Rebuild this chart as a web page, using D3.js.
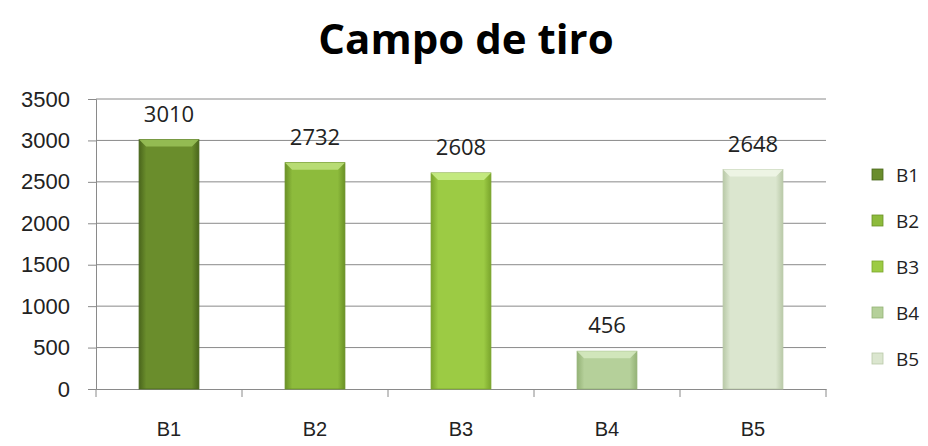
<!DOCTYPE html>
<html>
<head>
<meta charset="utf-8">
<script src="https://cdn.jsdelivr.net/npm/d3@7"></script>
<style>
  html, body { margin: 0; padding: 0; background: #fff; }
  svg { display: block; font-family: "Open Sans", "DejaVu Sans", sans-serif; }
</style>
</head>
<body>
<svg id="chart" width="928" height="446"></svg>
<script>
const categories = ['B1', 'B2', 'B3', 'B4', 'B5'];
const values = [3010, 2732, 2608, 456, 2648];
const yTicks = [0, 500, 1000, 1500, 2000, 2500, 3000, 3500];
const colors = [
  { mid: '#6a8d2c', edge: '#4a661c', top: '#98c056' },
  { mid: '#8dbb3c', edge: '#6a9126', top: '#bde07a' },
  { mid: '#9ccb44', edge: '#7aa52c', top: '#c8ec86' },
  { mid: '#b5d09a', edge: '#94b276', top: '#d4e8bf' },
  { mid: '#dbe6cf', edge: '#b9c9a8', top: '#eef5e6' }
];

const svg = d3.select('#chart');
const m = { left: 96, right: 102, top: 99, bottom: 57 };
const W = 928, H = 446;

const x = d3.scaleBand().domain(categories).range([m.left, W - m.right]).paddingInner(0.59).paddingOuter(0.295);
const y = d3.scaleLinear().domain([0, 3500]).range([H - m.bottom, m.top]);

const defs = svg.append('defs');
colors.forEach((c, i) => {
  const g = defs.append('linearGradient').attr('id', 'g' + i).attr('x1', 0).attr('x2', 1).attr('y1', 0).attr('y2', 0);
  g.append('stop').attr('offset', '0%').attr('stop-color', c.edge);
  g.append('stop').attr('offset', '12%').attr('stop-color', c.mid);
  g.append('stop').attr('offset', '88%').attr('stop-color', c.mid);
  g.append('stop').attr('offset', '100%').attr('stop-color', c.edge);
});

// title
svg.append('text')
  .attr('x', 466).attr('y', 54)
  .attr('text-anchor', 'middle')
  .attr('font-size', 42).attr('font-weight', 'bold')
  .attr('fill', '#000')
  .text('Campo de tiro');

// gridlines
svg.append('g').selectAll('line').data(yTicks.filter(d => d > 0)).join('line')
  .attr('x1', m.left).attr('x2', W - m.right)
  .attr('y1', d => y(d)).attr('y2', d => y(d))
  .attr('stroke', '#8a8a8a').attr('stroke-width', 1);

// y axis
const yAxis = svg.append('g').attr('transform', `translate(${m.left},0)`)
  .call(d3.axisLeft(y).tickValues(yTicks).tickFormat(d3.format('d')).tickSize(8).tickPadding(18));
yAxis.select('.domain').attr('stroke', '#8a8a8a');
yAxis.selectAll('.tick line').attr('stroke', '#8a8a8a');
yAxis.selectAll('text').attr('font-size', 22).attr('fill', '#222');

// x axis
const xAxis = svg.append('g').attr('transform', `translate(0,${y(0)})`)
  .call(d3.axisBottom(x).tickSize(0).tickPadding(33));
xAxis.select('.domain').attr('stroke', '#8a8a8a');
xAxis.selectAll('text').attr('font-size', 20).attr('fill', '#222');
const step = x.step();
svg.append('g').selectAll('line').data(d3.range(categories.length + 1)).join('line')
  .attr('x1', i => m.left + i * step).attr('x2', i => m.left + i * step)
  .attr('y1', y(0)).attr('y2', y(0) + 8)
  .attr('stroke', '#8a8a8a');

// bars
const bars = svg.append('g').selectAll('g').data(values).join('g');
bars.append('rect')
  .attr('x', (d, i) => x(categories[i]))
  .attr('y', d => y(d))
  .attr('width', x.bandwidth())
  .attr('height', d => y(0) - y(d))
  .attr('fill', (d, i) => `url(#g${i})`)
  .attr('stroke', (d, i) => colors[i].edge).attr('stroke-width', 0.8);
// top bevel
bars.append('path')
  .attr('d', (d, i) => {
    const x0 = x(categories[i]), w = x.bandwidth(), t = y(d), b = 7;
    return `M${x0},${t}L${x0 + w},${t}L${x0 + w - b},${t + b}L${x0 + b},${t + b}Z`;
  })
  .attr('fill', (d, i) => colors[i].top).attr('opacity', 0.9);

// value labels
svg.append('g').selectAll('text').data(values).join('text')
  .attr('x', (d, i) => x(categories[i]) + x.bandwidth() / 2)
  .attr('y', d => y(d) - 18)
  .attr('text-anchor', 'middle')
  .attr('font-size', 22).attr('fill', '#222')
  .text(d => d);

// legend
const leg = svg.append('g').selectAll('g').data(categories).join('g')
  .attr('transform', (d, i) => `translate(872,${175 + i * 46})`);
leg.append('rect').attr('x', 0).attr('y', -6).attr('width', 11).attr('height', 11)
  .attr('fill', (d, i) => colors[i].mid).attr('stroke', (d, i) => colors[i].edge).attr('stroke-width', 0.8);
leg.append('text').attr('x', 24).attr('y', 0).attr('dy', '0.35em')
  .attr('font-size', 19).attr('fill', '#222').text(d => d);
</script>
</body>
</html>
